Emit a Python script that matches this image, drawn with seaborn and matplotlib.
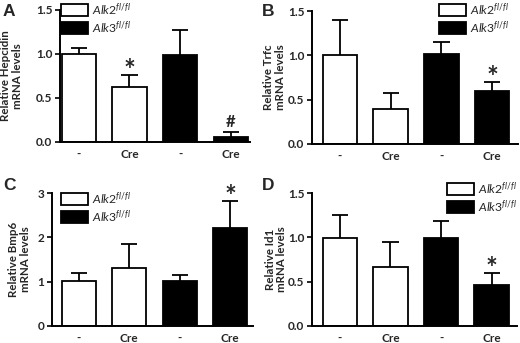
import matplotlib
matplotlib.use("Agg")
import matplotlib.pyplot as plt
import matplotlib.patches as mpatches
import seaborn as sns
import numpy as np

# data (mean, upper error)
conditions = ["-", "Cre", "-", "Cre"]
genotype = ["Alk2", "Alk2", "Alk3", "Alk3"]

hepcidin_mean = [1.00, 0.62, 0.99, 0.06]
hepcidin_err = [0.07, 0.14, 0.28, 0.05]
hepcidin_marks = ["", "*", "", "#"]

trfc_mean = [1.00, 0.40, 1.01, 0.60]
trfc_err = [0.40, 0.17, 0.14, 0.10]
trfc_marks = ["", "", "", "*"]

bmp6_mean = [1.02, 1.31, 1.01, 2.21]
bmp6_err = [0.18, 0.55, 0.15, 0.62]
bmp6_marks = ["", "", "", "*"]

id1_mean = [0.99, 0.66, 0.99, 0.46]
id1_err = [0.26, 0.29, 0.19, 0.14]
id1_marks = ["", "", "", "*"]

sns.set_style("white")
plt.rcParams["font.family"] = ["Lato", "DejaVu Sans"]
plt.rcParams["mathtext.fontset"] = "custom"
plt.rcParams["mathtext.it"] = "Lato:italic"
plt.rcParams["mathtext.rm"] = "Lato"
plt.rcParams["mathtext.default"] = "it"

W, H = 520, 343
fig = plt.figure(figsize=(W / 100, H / 100), dpi=100)

def px_axes(left, top, right, bottom):
    return fig.add_axes([left / W, 1 - bottom / H, (right - left) / W, (bottom - top) / H])

colors = {"Alk2": "white", "Alk3": "black"}

def panel(ax, mean, err, marks, ylabel, ylim, yticks, xlim, labx, letter, letter_xy, leg_xy, fmt):
    x = np.arange(len(mean))
    sns.barplot(x=x, y=mean, hue=genotype, palette=colors, dodge=False,
                edgecolor="black", linewidth=1.3, width=0.68, legend=False, ax=ax)
    top = np.array(mean) + np.array(err)
    ax.vlines(x, mean, top, color="black", lw=1.3, zorder=1)
    ax.hlines(top, x - 0.16, x + 0.16, color="black", lw=1.3, zorder=1)
    span = ylim[1] - ylim[0]
    for xi, t, m in zip(x, top, marks):
        if m == "*":
            ax.text(xi, t - 0.07 * span, m, ha="center", va="bottom", fontsize=20, fontweight="bold")
        elif m == "#":
            ax.text(xi, t + 0.02 * span, m, ha="center", va="bottom", fontsize=12, fontweight="bold")
    ax.set_ylim(*ylim)
    ax.set_xlim(*xlim)
    ax.set_yticks(yticks)
    ax.set_yticklabels([fmt.format(v) for v in yticks], fontsize=8.5, fontweight="bold")
    ax.set_xticks(x)
    ax.set_xticklabels(conditions, fontsize=8.5, fontweight="bold")
    ax.set_ylabel(ylabel, fontsize=8.3, fontweight="bold", linespacing=1.05)
    ax.yaxis.set_label_coords(labx, 0.5)
    ax.set_xlabel("")
    sns.despine(ax=ax)
    for s in ["left", "bottom"]:
        ax.spines[s].set_linewidth(1.4)
        ax.spines[s].set_color("black")
    ax.tick_params(axis="y", length=3.5, width=1.2, pad=2, color="black", left=True)
    ax.tick_params(axis="x", length=0, pad=5)
    fig.text(letter_xy[0] / W, 1 - letter_xy[1] / H, letter, fontsize=12.5,
             fontweight="bold", family="Liberation Sans", va="top")
    handles = [mpatches.Patch(facecolor="white", edgecolor="black", lw=1.3),
               mpatches.Patch(facecolor="black", edgecolor="black", lw=1.3)]
    fig.legend(handles, [r"$Alk2^{fl/fl}$", r"$Alk3^{fl/fl}$"], loc="upper left",
               bbox_to_anchor=(leg_xy[0] / W, 1 - leg_xy[1] / H), frameon=False,
               borderpad=0, borderaxespad=0, handlelength=2.2, handleheight=1.15,
               handletextpad=0.35, labelspacing=0.2, fontsize=8.8)

axA = px_axes(60, 10, 250, 142)
panel(axA, hepcidin_mean, hepcidin_err, hepcidin_marks, "Relative Hepcidin\nmRNA levels",
      (0, 1.5), [0, 0.5, 1.0, 1.5], (-0.37, 3.38), -0.195, "A", (3, 4), (61, 1), "{:.1f}")

axB = px_axes(312, 11, 518, 144)
panel(axB, trfc_mean, trfc_err, trfc_marks, "Relative Trfc\nmRNA levels",
      (0, 1.5), [0, 0.5, 1.0, 1.5], (-0.55, 3.51), -0.127, "B", (262, 4), (439, 1), "{:.1f}")

axC = px_axes(52, 193, 253, 326)
panel(axC, bmp6_mean, bmp6_err, bmp6_marks, "Relative Bmp6\nmRNA levels",
      (0, 3), [0, 1, 2, 3], (-0.53, 3.45), -0.105, "C", (3, 178), (61, 190), "{:.0f}")

axD = px_axes(312, 193, 517, 326)
panel(axD, id1_mean, id1_err, id1_marks, "Relative Id1\nmRNA levels",
      (0, 1.5), [0, 0.5, 1.0, 1.5], (-0.55, 3.5), -0.12, "D", (262, 178), (447, 180), "{:.1f}")

fig.savefig("out.png", dpi=100)
